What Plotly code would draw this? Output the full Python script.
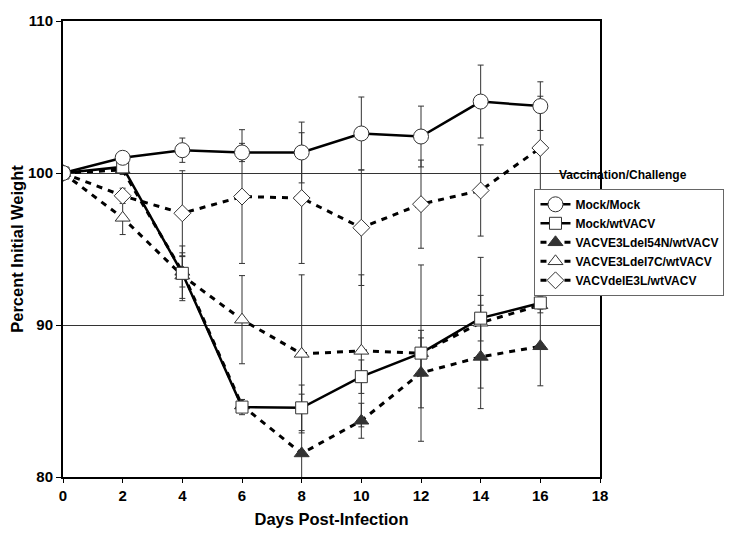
import plotly.graph_objects as go

days = [0, 2, 4, 6, 8, 10, 12, 14, 16]

series_names = ["Mock/Mock", "Mock/wtVACV", "VACVE3Ldel54N/wtVACV",
                "VACVE3Ldel7C/wtVACV", "VACVdelE3L/wtVACV"]

mock_mock = [100, 101.0, 101.5, 101.35, 101.35, 102.6, 102.4, 104.7, 104.4]
mock_mock_err = [0, 0.3, 0.8, 0.6, 2.0, 2.4, 2.0, 2.4, 1.6]

mock_wt = [100, 100.4, 93.4, 84.6, 84.55, 86.6, 88.15, 90.45, 91.45]
mock_wt_err = [0, 0.3, 1.8, 0.5, 1.5, 1.1, 5.8, 1.5, 0.4]

del54n = [100, 100.2, 93.5, 84.7, 81.55, 83.7, 86.85, 87.9, 88.6]
del54n_err = [0, 0.3, 1.0, 0.4, 3.9, 1.15, 2.3, 3.4, 2.6]

del7c = [100, 97.05, 93.25, 90.35, 88.1, 88.3, 88.15, 90.15, 91.3]
del7c_err = [0, 1.1, 1.5, 2.9, 5.2, 5.0, 1.5, 4.3, 0.5]

dele3l = [100, 98.5, 97.35, 98.45, 98.35, 96.4, 97.95, 98.85, 101.65]
dele3l_err = [0, 0.5, 2.8, 4.4, 4.3, 3.8, 2.9, 3.0, 3.4]

x_ticks = [0, 2, 4, 6, 8, 10, 12, 14, 16, 18]
y_ticks = [80, 90, 100, 110]

fig = go.Figure()

specs = [
    (series_names[2], del54n, del54n_err, "triangle-up", "#333333", 13, "dash"),
    (series_names[3], del7c, del7c_err, "triangle-up", "white", 13, "dash"),
    (series_names[4], dele3l, dele3l_err, "diamond", "white", 13, "dash"),
    (series_names[1], mock_wt, mock_wt_err, "square", "white", 12, "solid"),
    (series_names[0], mock_mock, mock_mock_err, "circle", "white", 15, "solid"),
]
rank = {n: i for i, n in enumerate(series_names)}

for name, vals, errs, sym, fill, size, dash in specs:
    fig.add_trace(go.Scatter(
        x=days, y=vals, name=name, mode="lines+markers",
        line=dict(color="black", width=3 if dash == "dash" else 2.5,
                  dash="6px,6px" if dash == "dash" else "solid"),
        marker=dict(symbol=sym, size=size, color=fill,
                    line=dict(color="#333333", width=1)),
        error_y=dict(type="data", array=errs, visible=True,
                     color="#333333", thickness=1, width=3),
        legendrank=rank[name] + 1,
    ))

fig.update_layout(
    width=741, height=536,
    margin=dict(l=52, r=149, t=4, b=67),
    paper_bgcolor="white", plot_bgcolor="white",
    font=dict(family="Liberation Sans, Arial", color="black"),
    showlegend=True,
    legend=dict(x=0.878, y=0.632, xanchor="left", yanchor="top",
                bgcolor="white", bordercolor="#666666", borderwidth=1,
                font=dict(size=12, weight="bold"), tracegroupgap=0,
                itemwidth=30),
    annotations=[dict(text="<b>Vaccination/Challenge</b>", x=1.042, y=0.662,
                      xref="paper", yref="paper", showarrow=False,
                      font=dict(size=12), xanchor="center", yanchor="middle")],
)

fig.update_xaxes(
    range=[0, 18], tickvals=x_ticks, ticktext=[f"<b>{v}</b>" for v in x_ticks],
    ticks="outside", ticklen=4, ticklabeloverflow="allow",
    tickcolor="black", showline=True, linecolor="black", linewidth=2,
    mirror=True, showgrid=False, zeroline=False,
    tickfont=dict(size=15, weight="bold"),
    title=dict(text="<b>Days Post-Infection</b>", font=dict(size=16.5), standoff=10),
)
fig.update_yaxes(
    range=[80, 110], tickvals=y_ticks, ticktext=[f"<b>{v}</b>" for v in y_ticks],
    ticks="outside", ticklen=5, ticklabeloverflow="allow",
    tickcolor="black", showline=True, linecolor="black", linewidth=2,
    mirror=True, showgrid=True, gridcolor="#333333", gridwidth=1, zeroline=False,
    tickfont=dict(size=15, weight="bold"),
    title=dict(text="<b>Percent Initial Weight</b>", font=dict(size=16.5), standoff=4),
)

fig.write_html("out.html")
